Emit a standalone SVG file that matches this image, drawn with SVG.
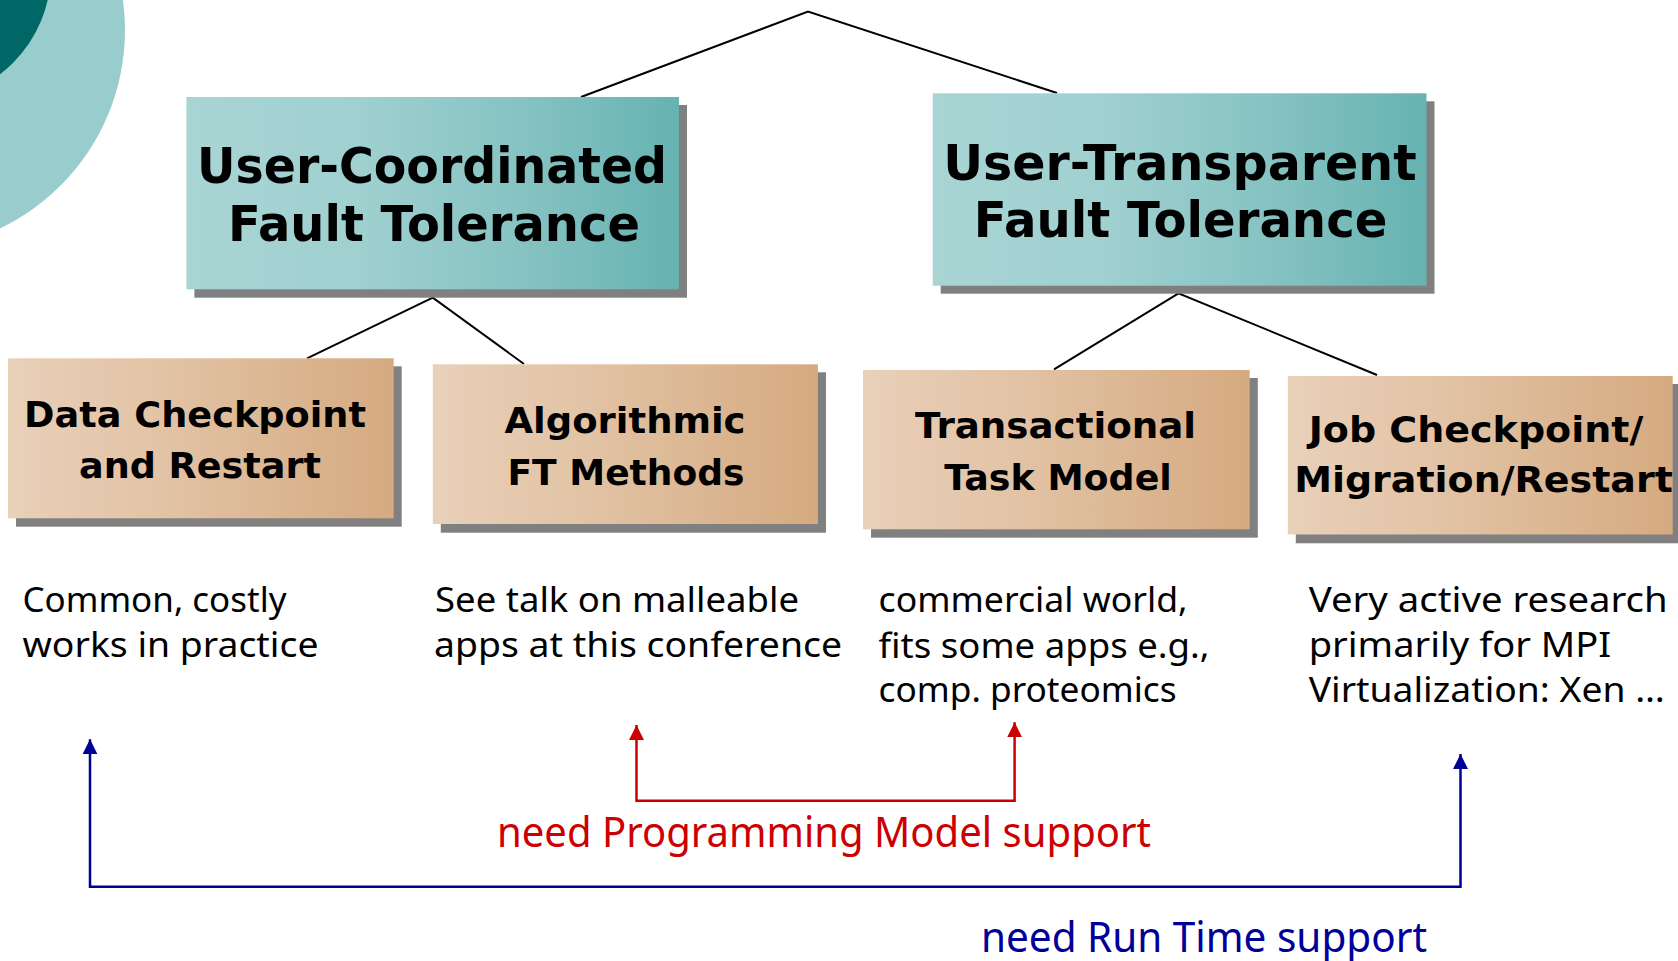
<svg xmlns="http://www.w3.org/2000/svg" width="1678" height="961" viewBox="0 0 1678 961">
  <defs>
    <linearGradient id="tealFill" x1="0" y1="0" x2="1" y2="0">
      <stop offset="0" stop-color="#a9d4d4"/>
      <stop offset="0.35" stop-color="#a0d0d0"/>
      <stop offset="0.7" stop-color="#84c2c1"/>
      <stop offset="1" stop-color="#66b3b2"/>
    </linearGradient>
    <linearGradient id="tanFill" x1="0" y1="0" x2="1" y2="0">
      <stop offset="0" stop-color="#e9d0b9"/>
      <stop offset="0.4" stop-color="#e2c3a5"/>
      <stop offset="1" stop-color="#d5aa80"/>
    </linearGradient>
    <marker id="headRed" viewBox="0 0 10 10" refX="10" refY="5" markerUnits="userSpaceOnUse" markerWidth="15" markerHeight="15" orient="auto-start-reverse">
      <path d="M0,0 L10,5 L0,10 z" fill="#cc0000"/>
    </marker>
    <marker id="headBlue" viewBox="0 0 10 10" refX="10" refY="5" markerUnits="userSpaceOnUse" markerWidth="15" markerHeight="15" orient="auto-start-reverse">
      <path d="M0,0 L10,5 L0,10 z" fill="#000099"/>
    </marker>
    <style>
      .shadow { fill: #808080; }
      .teal { fill: url(#tealFill); }
      .tan { fill: url(#tanFill); }
      .title { font-family: "DejaVu Sans", "Liberation Sans", sans-serif; font-weight: bold; font-size: 49px; fill: #000; }
      .label { font-family: "DejaVu Sans", "Liberation Sans", sans-serif; font-weight: bold; font-size: 35px; fill: #000; }
      .note { font-family: "Comic Sans MS", "Noto Sans", sans-serif; font-size: 35px; fill: #000; }
      .need { font-family: "Comic Sans MS", "Noto Sans", sans-serif; font-size: 42px; }
      .tree { fill: none; stroke: #000; stroke-width: 2; }
    </style>
  </defs>

  <!-- corner decoration -->
  <g id="corner">
    <circle cx="-95" cy="30" r="220" fill="#99cccc"/>
    <circle cx="-79" cy="-29" r="130" fill="#006666"/>
  </g>

  <!-- hierarchy lines and support arrows -->
  <g id="connectors">
    <polyline class="tree" points="581,97 808,11.5 1057,93"/>
    <polyline class="tree" points="307,358.3 432.8,297.7 524,364"/>
    <polyline class="tree" points="1054,369.3 1178.5,293.3 1377,375"/>
    <polyline fill="none" stroke="#cc0000" stroke-width="2.5" points="636.5,725 636.5,800.7 1014.6,800.7 1014.6,722.3" marker-start="url(#headRed)" marker-end="url(#headRed)"/>
    <polyline fill="none" stroke="#000099" stroke-width="2.5" points="90,739.3 90,886.7 1460.5,886.7 1460.5,754" marker-start="url(#headBlue)" marker-end="url(#headBlue)"/>
  </g>

  <g id="user-coordinated">
    <rect class="shadow" x="194.4" y="105" width="492.6" height="192.7"/>
    <rect class="teal" x="186.4" y="97" width="492.6" height="192.3"/>
    <text class="title" x="432" y="182.7" text-anchor="middle" textLength="470" lengthAdjust="spacingAndGlyphs">User-Coordinated</text>
    <text class="title" x="434" y="240.7" text-anchor="middle" textLength="412" lengthAdjust="spacingAndGlyphs">Fault Tolerance</text>
  </g>

  <g id="user-transparent">
    <rect class="shadow" x="940.7" y="101.3" width="493.8" height="192.4"/>
    <rect class="teal" x="932.7" y="93.3" width="493.8" height="192.4"/>
    <text class="title" x="1180" y="180" text-anchor="middle" textLength="473.5" lengthAdjust="spacingAndGlyphs">User-Transparent</text>
    <text class="title" x="1180.6" y="236.7" text-anchor="middle" textLength="413.5" lengthAdjust="spacingAndGlyphs">Fault Tolerance</text>
  </g>

  <g id="data-checkpoint">
    <rect class="shadow" x="16" y="366.3" width="385.7" height="160.4"/>
    <rect class="tan" x="8" y="358.3" width="385.7" height="160"/>
    <text class="label" x="195" y="426.7" text-anchor="middle" textLength="342" lengthAdjust="spacingAndGlyphs">Data Checkpoint</text>
    <text class="label" x="200" y="477.7" text-anchor="middle" textLength="242" lengthAdjust="spacingAndGlyphs">and Restart</text>
  </g>

  <g id="algorithmic">
    <rect class="shadow" x="440.8" y="372.3" width="385.2" height="160.4"/>
    <rect class="tan" x="432.8" y="364.3" width="385.1" height="159.7"/>
    <text class="label" x="625" y="433.3" text-anchor="middle" textLength="241" lengthAdjust="spacingAndGlyphs">Algorithmic</text>
    <text class="label" x="626" y="485" text-anchor="middle" textLength="237" lengthAdjust="spacingAndGlyphs">FT Methods</text>
  </g>

  <g id="transactional">
    <rect class="shadow" x="871" y="378" width="386.8" height="159.7"/>
    <rect class="tan" x="863" y="370" width="386.7" height="159.3"/>
    <text class="label" x="1055.6" y="437.7" text-anchor="middle" textLength="281" lengthAdjust="spacingAndGlyphs">Transactional</text>
    <text class="label" x="1058" y="490" text-anchor="middle" textLength="227.6" lengthAdjust="spacingAndGlyphs">Task Model</text>
  </g>

  <g id="job-checkpoint">
    <rect class="shadow" x="1295.8" y="384" width="386.7" height="159.3"/>
    <rect class="tan" x="1287.8" y="376" width="384.9" height="158.5"/>
    <text class="label" x="1476" y="441.7" text-anchor="middle" textLength="334.7" lengthAdjust="spacingAndGlyphs">Job Checkpoint/</text>
    <text class="label" x="1483.5" y="491.7" text-anchor="middle" textLength="378.7" lengthAdjust="spacingAndGlyphs">Migration/Restart</text>
  </g>

  <g id="notes">
    <text class="note" x="22.5" y="611.7" textLength="264" lengthAdjust="spacingAndGlyphs">Common, costly</text>
    <text class="note" x="22.5" y="656.7" textLength="296" lengthAdjust="spacingAndGlyphs">works in practice</text>
    <text class="note" x="435" y="611.7" textLength="364" lengthAdjust="spacingAndGlyphs">See talk on malleable</text>
    <text class="note" x="434" y="656.7" textLength="408" lengthAdjust="spacingAndGlyphs">apps at this conference</text>
    <text class="note" x="878.6" y="611.7" textLength="309" lengthAdjust="spacingAndGlyphs">commercial world,</text>
    <text class="note" x="878.6" y="658.3" textLength="331" lengthAdjust="spacingAndGlyphs">fits some apps e.g.,</text>
    <text class="note" x="878.6" y="701.7" textLength="298" lengthAdjust="spacingAndGlyphs">comp. proteomics</text>
    <text class="note" x="1308.7" y="611.7" textLength="359" lengthAdjust="spacingAndGlyphs">Very active research</text>
    <text class="note" x="1308.7" y="656.7" textLength="302.6" lengthAdjust="spacingAndGlyphs">primarily for MPI</text>
    <text class="note" x="1308.7" y="701.7" textLength="356" lengthAdjust="spacingAndGlyphs">Virtualization: Xen …</text>
  </g>

  <g id="support-labels">
    <text class="need" x="497" y="847.3" fill="#cc0000" textLength="654" lengthAdjust="spacingAndGlyphs">need Programming Model support</text>
    <text class="need" x="981" y="951.7" fill="#000099" textLength="446" lengthAdjust="spacingAndGlyphs">need Run Time support</text>
  </g>
</svg>
